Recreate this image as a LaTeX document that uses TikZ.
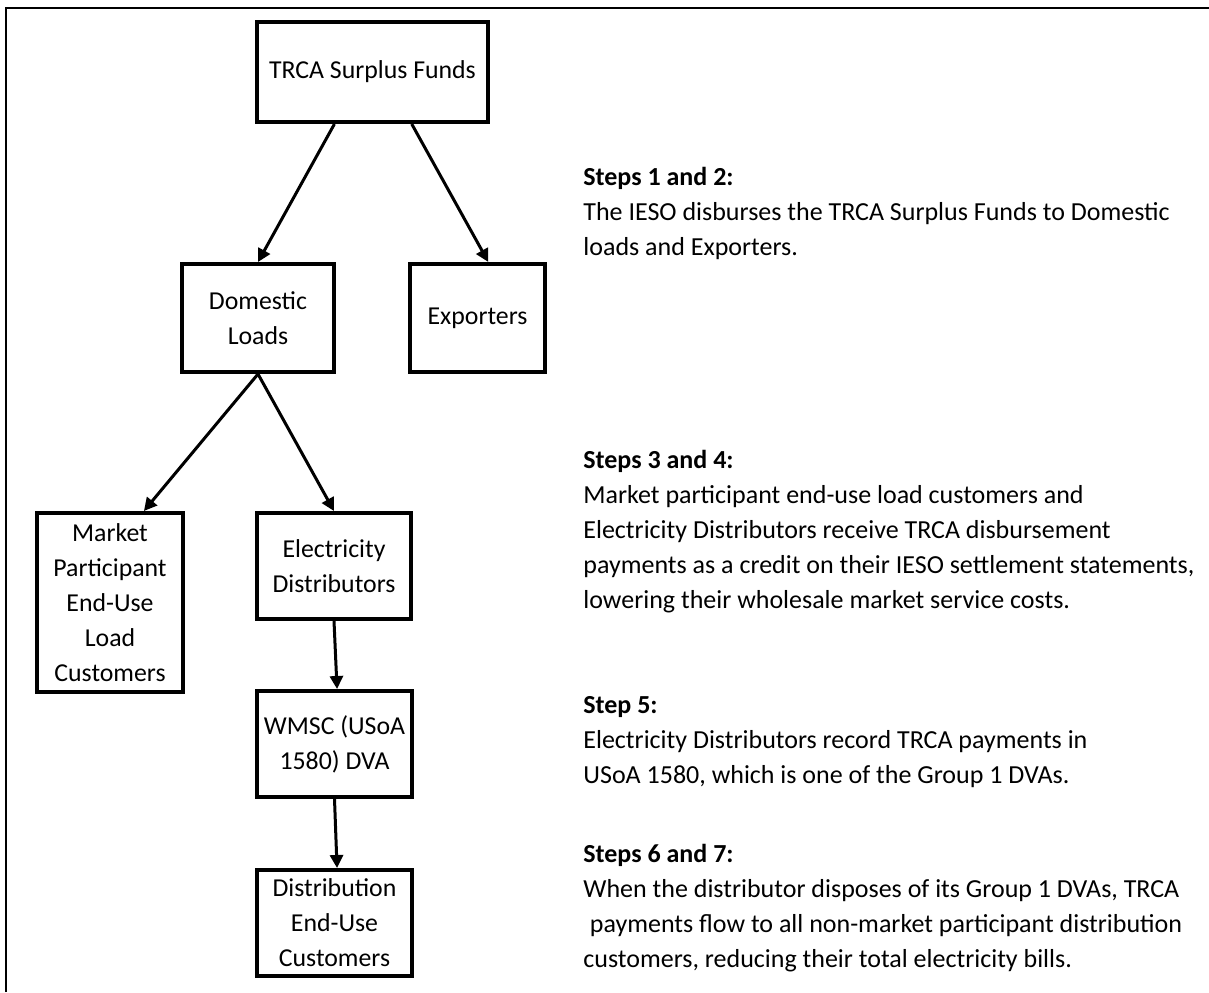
\documentclass[tikz,border=0pt]{standalone}
\usepackage{fontspec}
\setmainfont{Carlito}
\usetikzlibrary{arrows.meta,calc}

\begin{document}
\begin{tikzpicture}[x=0.5pt,y=-0.5pt]
    \tikzset{box/.style={draw, line width=2pt, align=center, inner sep=0pt, font=\fontsize{12.9}{17.5}\selectfont}}
    \tikzset{steptext/.style={align=left, anchor=base west, inner sep=0pt, font=\fontsize{13}{17.5}\selectfont}}
    \tikzset{flow/.style={-{Triangle[length=6.5pt,width=6.5pt]}, line width=1.5pt}}

    \useasboundingbox (0,0) rectangle (1209,992);
    \draw[line width=1pt] (6,992) |- (1209,8);

    \node[box, minimum width=115.5pt, minimum height=50pt] (Funds) at (372.5,72) {TRCA Surplus Funds};
    \node[box, minimum width=76pt, minimum height=54pt] (Domestic) at (258,318) {Domestic\\Loads};
    \node[box, minimum width=67.5pt, minimum height=54pt] (Exporters) at (477.5,318) {Exporters};
    \node[box, minimum width=73pt, minimum height=89.5pt] (Market) at (110,602.5) {Market\\Participant\\End-Use\\Load\\Customers};
    \node[box, minimum width=77pt, minimum height=53pt] (Distributors) at (334,566) {Electricity\\Distributors};
    \node[box, minimum width=77.5pt, minimum height=53pt] (WMSC) at (334.5,744) {WMSC (USoA\\1580) DVA};
    \node[box, minimum width=77.5pt, minimum height=53pt] (EndUse) at (334.5,923) {Distribution\\End-Use\\Customers};

    \coordinate (FundsL) at ($(Funds.south west)!0.338!(Funds.south east)$);
    \coordinate (FundsR) at ($(Funds.south west)!0.667!(Funds.south east)$);
    \coordinate (ExportersIn) at ($(Exporters.north west)!0.578!(Exporters.north east)$);
    \coordinate (MarketIn) at ($(Market.north west)!0.726!(Market.north east)$);
    \coordinate (WMSCIn) at ($(WMSC.north west)!0.516!(WMSC.north east)$);
    \coordinate (EndUseIn) at ($(EndUse.north west)!0.516!(EndUse.north east)$);
    \foreach \i/\j in {FundsL/Domestic.north,FundsR/ExportersIn,Domestic.south/MarketIn,Domestic.south/Distributors.north,Distributors.south/WMSCIn,WMSC.south/EndUseIn}{
        \draw[flow] (\i) -- (\j);
    }

    % base anchor sits on the last line of each block
    \node[steptext] (StepsOne) at (583,255) {\textbf{Steps 1 and 2:}\\The IESO disburses the TRCA Surplus Funds to Domestic\\loads and Exporters.};
    \node[steptext] (StepsThree) at (583,608) {\textbf{Steps 3 and 4:}\\Market participant end-use load customers and\\Electricity Distributors receive TRCA disbursement\\payments as a credit on their IESO settlement statements,\\lowering their wholesale market service costs.};
    \node[steptext] (StepFive) at (583,783) {\textbf{Step 5:}\\Electricity Distributors record TRCA payments in\\USoA 1580, which is one of the Group 1 DVAs.};
    \node[steptext] (StepsSix) at (583,967) {\textbf{Steps 6 and 7:}\\When the distributor disposes of its Group 1 DVAs, TRCA\\\hspace{0.25em}payments flow to all non-market participant distribution\\customers, reducing their total electricity bills.};
\end{tikzpicture}
\end{document}
